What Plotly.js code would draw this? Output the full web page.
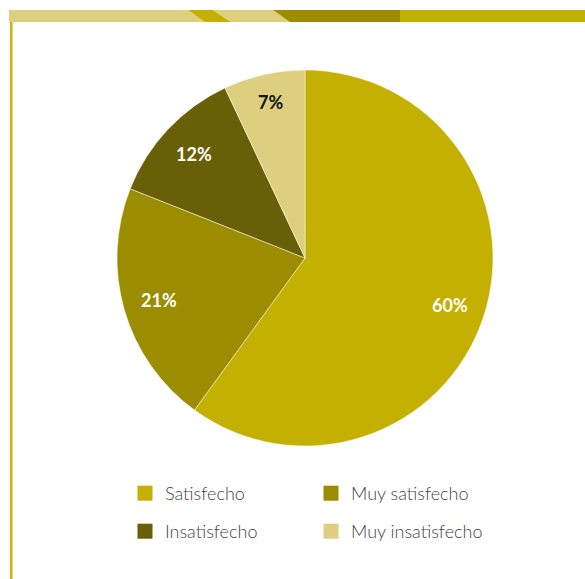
<!DOCTYPE html>
<html><head><meta charset="utf-8">
<script src="https://cdn.plot.ly/plotly-3.0.1.min.js"></script>
<style>html,body{margin:0;padding:0;background:#fff}#chart{width:585px;height:579px}</style>
</head><body><div id="chart"></div>
<script>
const categories = ['Satisfecho', 'Muy satisfecho', 'Insatisfecho', 'Muy insatisfecho'];
const values = [60, 21, 12, 7];
const colors = ['#c4b000', '#9c8c00', '#695f07', '#ddcf7d'];
const labelColors = ['#ffffff', '#ffffff', '#ffffff', '#111111'];

const W = 585, H = 579;
const M = {l: 117, r: 72, t: 70, b: 133};
const PW = W - M.l - M.r, PH = H - M.t - M.b;
const px = x => (x - M.l) / PW, py = y => (H - M.b - y) / PH;
function poly(pts, fill) {
  return {type: 'path', xref: 'paper', yref: 'paper', layer: 'above',
    path: 'M' + pts.map(p => px(p[0]) + ',' + py(p[1])).join('L') + 'Z',
    fillcolor: fill, line: {width: 0}};
}
const shapes = [
  poly([[9,10],[188,10],[205,22],[9,22]], '#ddcf7d'),
  poly([[188,10],[213,10],[231,22],[205,22]], '#c4b000'),
  poly([[213,10],[273,10],[290,22],[231,22]], '#ddcf7d'),
  poly([[273,10],[400,10],[400,22],[290,22]], '#9c8c00'),
  poly([[400,10],[585,10],[585,22],[400,22]], '#c4b000'),
  poly([[10,22],[12.5,22],[12.5,579],[10,579]], '#c8b414')
];

// pie occupies the square at the left of the plot area
const R = PH / 2;
const cxPx = M.l + R, cyPx = M.t + R;
const total = values.reduce((a, b) => a + b, 0);
const annotations = [];
let cum = 0;
values.forEach((v, i) => {
  const mid = (cum + v / 2) / total * 2 * Math.PI;
  cum += v;
  const f = i === values.length - 1 ? 0.85 : 0.81;
  const X = cxPx + f * R * Math.sin(mid), Y = cyPx - f * R * Math.cos(mid);
  annotations.push({xref: 'paper', yref: 'paper', x: px(X), y: py(Y),
    xanchor: 'center', yanchor: 'middle',
    text: Math.round(v / total * 100) + '%', showarrow: false,
    font: {family: 'Lato', size: 18, weight: 'bold', color: labelColors[i]}});
});

const traces = [{
  type: 'pie',
  labels: categories,
  values: values,
  sort: false,
  direction: 'clockwise',
  rotation: 0,
  marker: {colors: colors, line: {color: '#ffffff', width: 0.5}},
  textinfo: 'none',
  hoverinfo: 'none',
  showlegend: false,
  domain: {x: [0, (2 * R) / PW], y: [0, 1]}
}];
// legend entries (two rows of two)
categories.forEach((c, i) => {
  traces.push({type: 'scatter', mode: 'markers', x: [null], y: [null], name: c,
    legend: i < 2 ? 'legend' : 'legend2', showlegend: true, hoverinfo: 'none',
    marker: {symbol: 'square', size: 15, color: colors[i]}});
});

const legendBase = {
  orientation: 'h', x: px(125), xanchor: 'left', yanchor: 'top',
  entrywidth: 141, entrywidthmode: 'pixels', traceorder: 'normal',
  font: {family: 'Lato', size: 18, weight: 300, color: '#444444'},
  itemwidth: 30, bgcolor: 'rgba(0,0,0,0)'
};

Plotly.newPlot('chart', traces, {
  width: W, height: H,
  margin: {l: M.l, r: M.r, t: M.t, b: M.b, autoexpand: false},
  paper_bgcolor: '#ffffff',
  plot_bgcolor: 'rgba(0,0,0,0)',
  xaxis: {visible: false, showgrid: false, zeroline: false},
  yaxis: {visible: false, showgrid: false, zeroline: false},
  legend: Object.assign({}, legendBase, {y: py(475)}),
  legend2: Object.assign({}, legendBase, {y: py(513)}),
  annotations: annotations,
  shapes: shapes
}, {displayModeBar: false, staticPlot: true});
</script></body></html>
